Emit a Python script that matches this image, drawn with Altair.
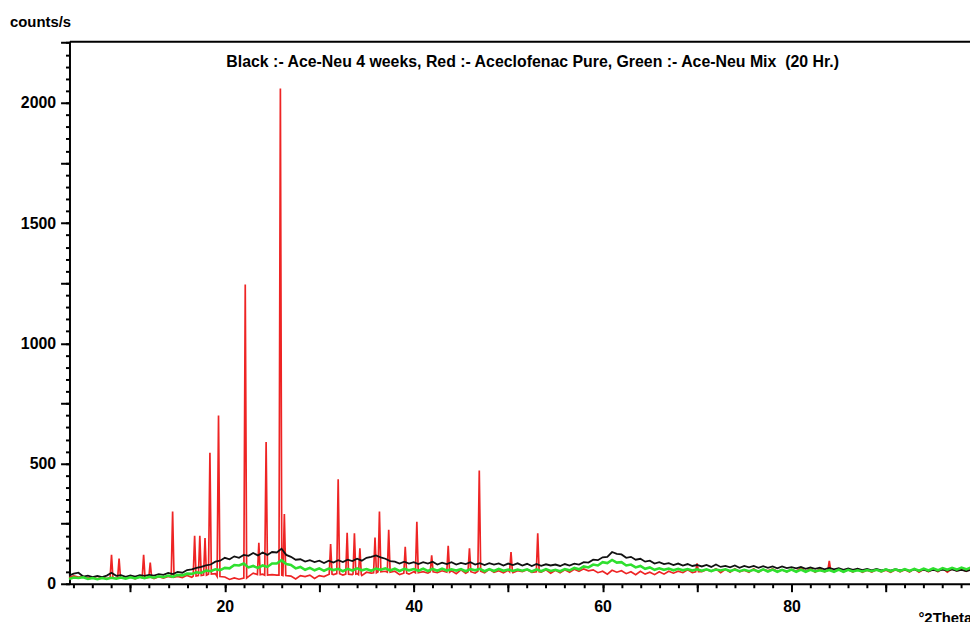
import altair as alt
import pandas as pd

# ---------------- data ----------------
theta_start = 3.5
theta_step = 0.5

# Black :- Ace-Neu 4 weeks  (counts/s on a 0.5 deg grid from 3.5 to 99)
black_counts = [
    34, 42, 46, 30, 34, 28,
    33, 28, 34, 46, 33, 36, 29, 35, 30, 36, 33, 37,
    34, 40, 37, 45, 40, 49, 46, 57,
    60, 66, 70, 76, 80, 92, 96, 108,
    102, 114, 108, 120, 116, 128, 118, 130, 120, 132,
    130, 146, 120, 112, 100, 102, 92, 98, 90, 96,
    86, 96, 88, 98, 90, 100, 94, 104, 96, 108,
    112, 118, 110, 104, 94, 92, 84, 92, 84, 90,
    82, 90, 84, 92, 80, 88, 82, 90, 80, 87,
    82, 90, 80, 86, 78, 86, 80, 85, 76, 84,
    78, 85, 76, 83, 74, 82, 75, 81, 76, 80,
    74, 82, 76, 84, 80, 90, 88, 100, 98, 110,
    112, 132, 124, 122, 108, 112, 100, 104, 92, 96,
    84, 90, 82, 86, 78, 84, 76, 82, 74, 78,
    72, 78, 70, 80, 70, 74, 68, 76, 66, 74,
    68, 74, 66, 73, 66, 72, 64, 72, 65, 69,
    64, 70, 62, 68, 62, 67, 60, 66, 60, 65,
    58, 64, 58, 63, 57, 62, 56, 62, 56, 60,
    55, 61, 56, 60, 54, 60, 54, 59, 53, 58,
    54, 59, 55, 60, 54, 58, 53, 58,
]

# Green :- Ace-Neu Mix (20 Hr.)
green_counts = [
    20, 26, 24, 27, 20, 24,
    19, 24, 20, 25, 21, 26, 21, 27, 22, 28, 23, 29,
    25, 31, 27, 34, 29, 37, 35, 42,
    41, 48, 45, 55, 52, 60, 57, 66,
    64, 78, 76, 84, 68, 74, 66, 76, 70, 84,
    84, 98, 82, 78, 64, 70, 58, 66, 56, 64,
    54, 63, 57, 62, 52, 62, 55, 64, 56, 61,
    54, 63, 58, 64, 55, 63, 53, 62, 56, 61,
    54, 63, 53, 62, 54, 63, 55, 60, 55, 61,
    52, 61, 56, 62, 52, 61, 53, 62, 54, 59,
    53, 59, 54, 60, 51, 60, 52, 61, 53, 58,
    52, 61, 56, 66, 60, 72, 68, 80, 76, 90,
    86, 99, 88, 90, 76, 80, 68, 74, 62, 68,
    58, 64, 58, 63, 56, 62, 56, 61, 55, 60,
    54, 60, 53, 59, 55, 60, 53, 59, 52, 58,
    52, 58, 51, 60, 51, 59, 50, 58, 51, 59,
    50, 59, 50, 58, 51, 56, 51, 57, 50, 59,
    50, 58, 51, 56, 51, 57, 52, 58, 52, 60,
    52, 60, 53, 61, 53, 62, 54, 63, 55, 64,
    56, 65, 58, 66, 59, 67, 60, 68,
]

# Red :- Aceclofenac Pure (background between the reflections)
red_counts = [
    26, 33, 28, 31, 24, 28,
    21, 28, 22, 29, 22, 27, 22, 29, 21, 29, 22, 30,
    22, 29, 23, 30, 24, 31, 26, 35,
    27, 38, 29, 40, 36, 42, 26, 28,
    18, 24, 19, 32, 30, 44, 34, 40, 28, 38,
    36, 42, 26, 32, 20, 34, 30, 36, 22, 34,
    30, 42, 38, 50, 36, 44, 38, 42, 34, 48,
    44, 56, 46, 52, 40, 52, 38, 46, 40, 50,
    42, 50, 44, 56, 46, 54, 40, 54, 42, 58,
    44, 60, 44, 58, 46, 60, 48, 54, 46, 56,
    46, 54, 50, 58, 47, 56, 48, 58, 44, 56,
    46, 58, 48, 60, 52, 62, 54, 58, 46, 52,
    40, 56, 48, 54, 42, 50, 38, 52, 40, 48,
    38, 50, 40, 52, 44, 52, 46, 58, 46, 58,
    50, 58, 52, 62, 46, 60, 48, 62, 50, 56,
    48, 62, 48, 60, 54, 62, 52, 58, 50, 60,
    52, 66, 50, 64, 48, 62, 50, 64, 52, 58,
    50, 58, 49, 62, 48, 56, 49, 58, 50, 56,
    48, 58, 50, 58, 49, 62, 48, 60, 50, 62,
    50, 64, 48, 62, 54, 60, 52, 62,
]

# Red reflections: position (deg 2theta), peak height, background at the foot
red_peak_pos = [8.0, 8.8, 11.4, 12.1, 14.47, 16.8, 17.35, 17.9, 18.42, 19.33,
                22.16, 23.6, 24.37, 25.88, 26.3, 31.2, 32.0, 32.95, 33.72, 34.3,
                35.9, 36.37, 37.35, 39.1, 40.33, 41.9, 43.65, 45.9, 46.94, 50.3,
                53.13, 70.0, 84.0]
red_peak_height = [120, 105, 120, 88, 300, 200, 200, 190, 545, 700,
                   1245, 170, 590, 2060, 290, 165, 435, 212, 210, 148,
                   192, 300, 224, 154, 258, 118, 158, 148, 471, 132,
                   210, 85, 95]
red_peak_foot = [25, 25, 25, 26, 27, 32, 34, 36, 40, 30,
                 24, 38, 36, 36, 34, 40, 42, 40, 40, 38,
                 46, 50, 48, 44, 46, 50, 48, 50, 52, 50,
                 50, 50, 56]

title_text = "Black :- Ace-Neu 4 weeks, Red :- Aceclofenac Pure, Green :- Ace-Neu Mix\u00a0 (20 Hr.)"
y_title_text = "counts/s"
x_title_text = "°2Theta"

x_domain = [3.55, 98.9]
y_domain = [0, 2256]
x_major = [10, 20, 30, 40, 50, 60, 70, 80, 90]
x_minor = list(range(4, 99, 2))
y_major = list(range(0, 2251, 250))
y_minor = list(range(0, 2251, 50))

PEAK_HALF_WIDTH = 0.15

# ---------------- tables ----------------
grid = [theta_start + theta_step * i for i in range(len(black_counts))]
assert len(green_counts) == len(grid) and len(red_counts) == len(grid)

df_black = pd.DataFrame({"theta": grid, "counts": black_counts})
df_green = pd.DataFrame({"theta": grid, "counts": green_counts})

red_rows = [(x, y) for x, y in zip(grid, red_counts)
            if min(abs(x - p) for p in red_peak_pos) > 0.2]
for p, h, f in zip(red_peak_pos, red_peak_height, red_peak_foot):
    red_rows += [(p - PEAK_HALF_WIDTH, f), (p, h), (p + PEAK_HALF_WIDTH, f)]
df_red = pd.DataFrame(red_rows, columns=["theta", "counts"]).sort_values("theta")

# ---------------- chart ----------------
FONT = "Liberation Sans"
xs = alt.Scale(domain=x_domain, nice=False, zero=False)
ys = alt.Scale(domain=y_domain, nice=False, zero=False)

red = alt.Chart(df_red).mark_line(color="#ee2424", strokeWidth=1.7).encode(
    x=alt.X("theta:Q", scale=xs, axis=alt.Axis(
        orient="bottom", values=x_major, title=None, grid=False,
        labelExpr="datum.value % 20 === 0 ? datum.label : ''",
        tickSize=8, tickWidth=2, tickColor="black", domainWidth=2, domainColor="black",
        labelFontSize=16, labelFontWeight="bold", labelColor="black",
        labelPadding=7, labelFont=FONT)),
    y=alt.Y("counts:Q", scale=ys, axis=alt.Axis(
        orient="left", values=y_major, title=None, grid=False, format="d",
        labelExpr="datum.value % 500 === 0 ? datum.label : ''",
        tickSize=9, tickWidth=2, tickColor="black", domainWidth=2, domainColor="black",
        labelFontSize=16, labelFontWeight="bold", labelColor="black",
        labelPadding=5, labelFont=FONT)),
)

black = alt.Chart(df_black).mark_line(color="#111111", strokeWidth=1.8).encode(
    x=alt.X("theta:Q", scale=xs, axis=alt.Axis(
        orient="top", title=None, grid=False, ticks=False, labels=False,
        domainWidth=2, domainColor="black")),
    y=alt.Y("counts:Q", scale=ys, axis=alt.Axis(
        orient="left", values=y_minor, title=None, grid=False, labels=False,
        domain=False, tickSize=4, tickWidth=2, tickColor="black")),
)

green = alt.Chart(df_green).mark_line(color="#2fe02f", strokeWidth=2.6).encode(
    x=alt.X("theta:Q", scale=xs, axis=alt.Axis(
        orient="bottom", values=x_minor, title=None, grid=False, labels=False,
        domain=False, tickSize=4, tickWidth=2, tickColor="black")),
    y=alt.Y("counts:Q", scale=ys, axis=None),
)

title_df = pd.DataFrame({"t": [title_text]})
ytitle_df = pd.DataFrame({"t": [y_title_text]})
xtitle_df = pd.DataFrame({"t": [x_title_text]})

title = alt.Chart(title_df).mark_text(
    font=FONT, fontSize=16, fontWeight="bold", color="black",
    align="center", baseline="middle"
).encode(x=alt.value(467), y=alt.value(21), text="t:N")

ytitle = alt.Chart(ytitle_df).mark_text(
    font=FONT, fontSize=15, fontWeight="bold", color="black",
    align="left", baseline="middle"
).encode(x=alt.value(-60), y=alt.value(-19), text="t:N")

xtitle = alt.Chart(xtitle_df).mark_text(
    font=FONT, fontSize=15, fontWeight="bold", color="black",
    align="left", baseline="middle"
).encode(x=alt.value(856), y=alt.value(582), text="t:N")

chart = alt.layer(red, black, green, title, ytitle, xtitle).resolve_axis(
    x="independent", y="independent"
).properties(
    width=908, height=547,
    autosize=alt.AutoSizeParams(type="none"),
    padding={"left": 62, "top": 31, "right": 0, "bottom": 36},
).configure_view(stroke=None).configure(font=FONT)

chart.save("out.html", embed_options={"renderer": "svg", "actions": False})
